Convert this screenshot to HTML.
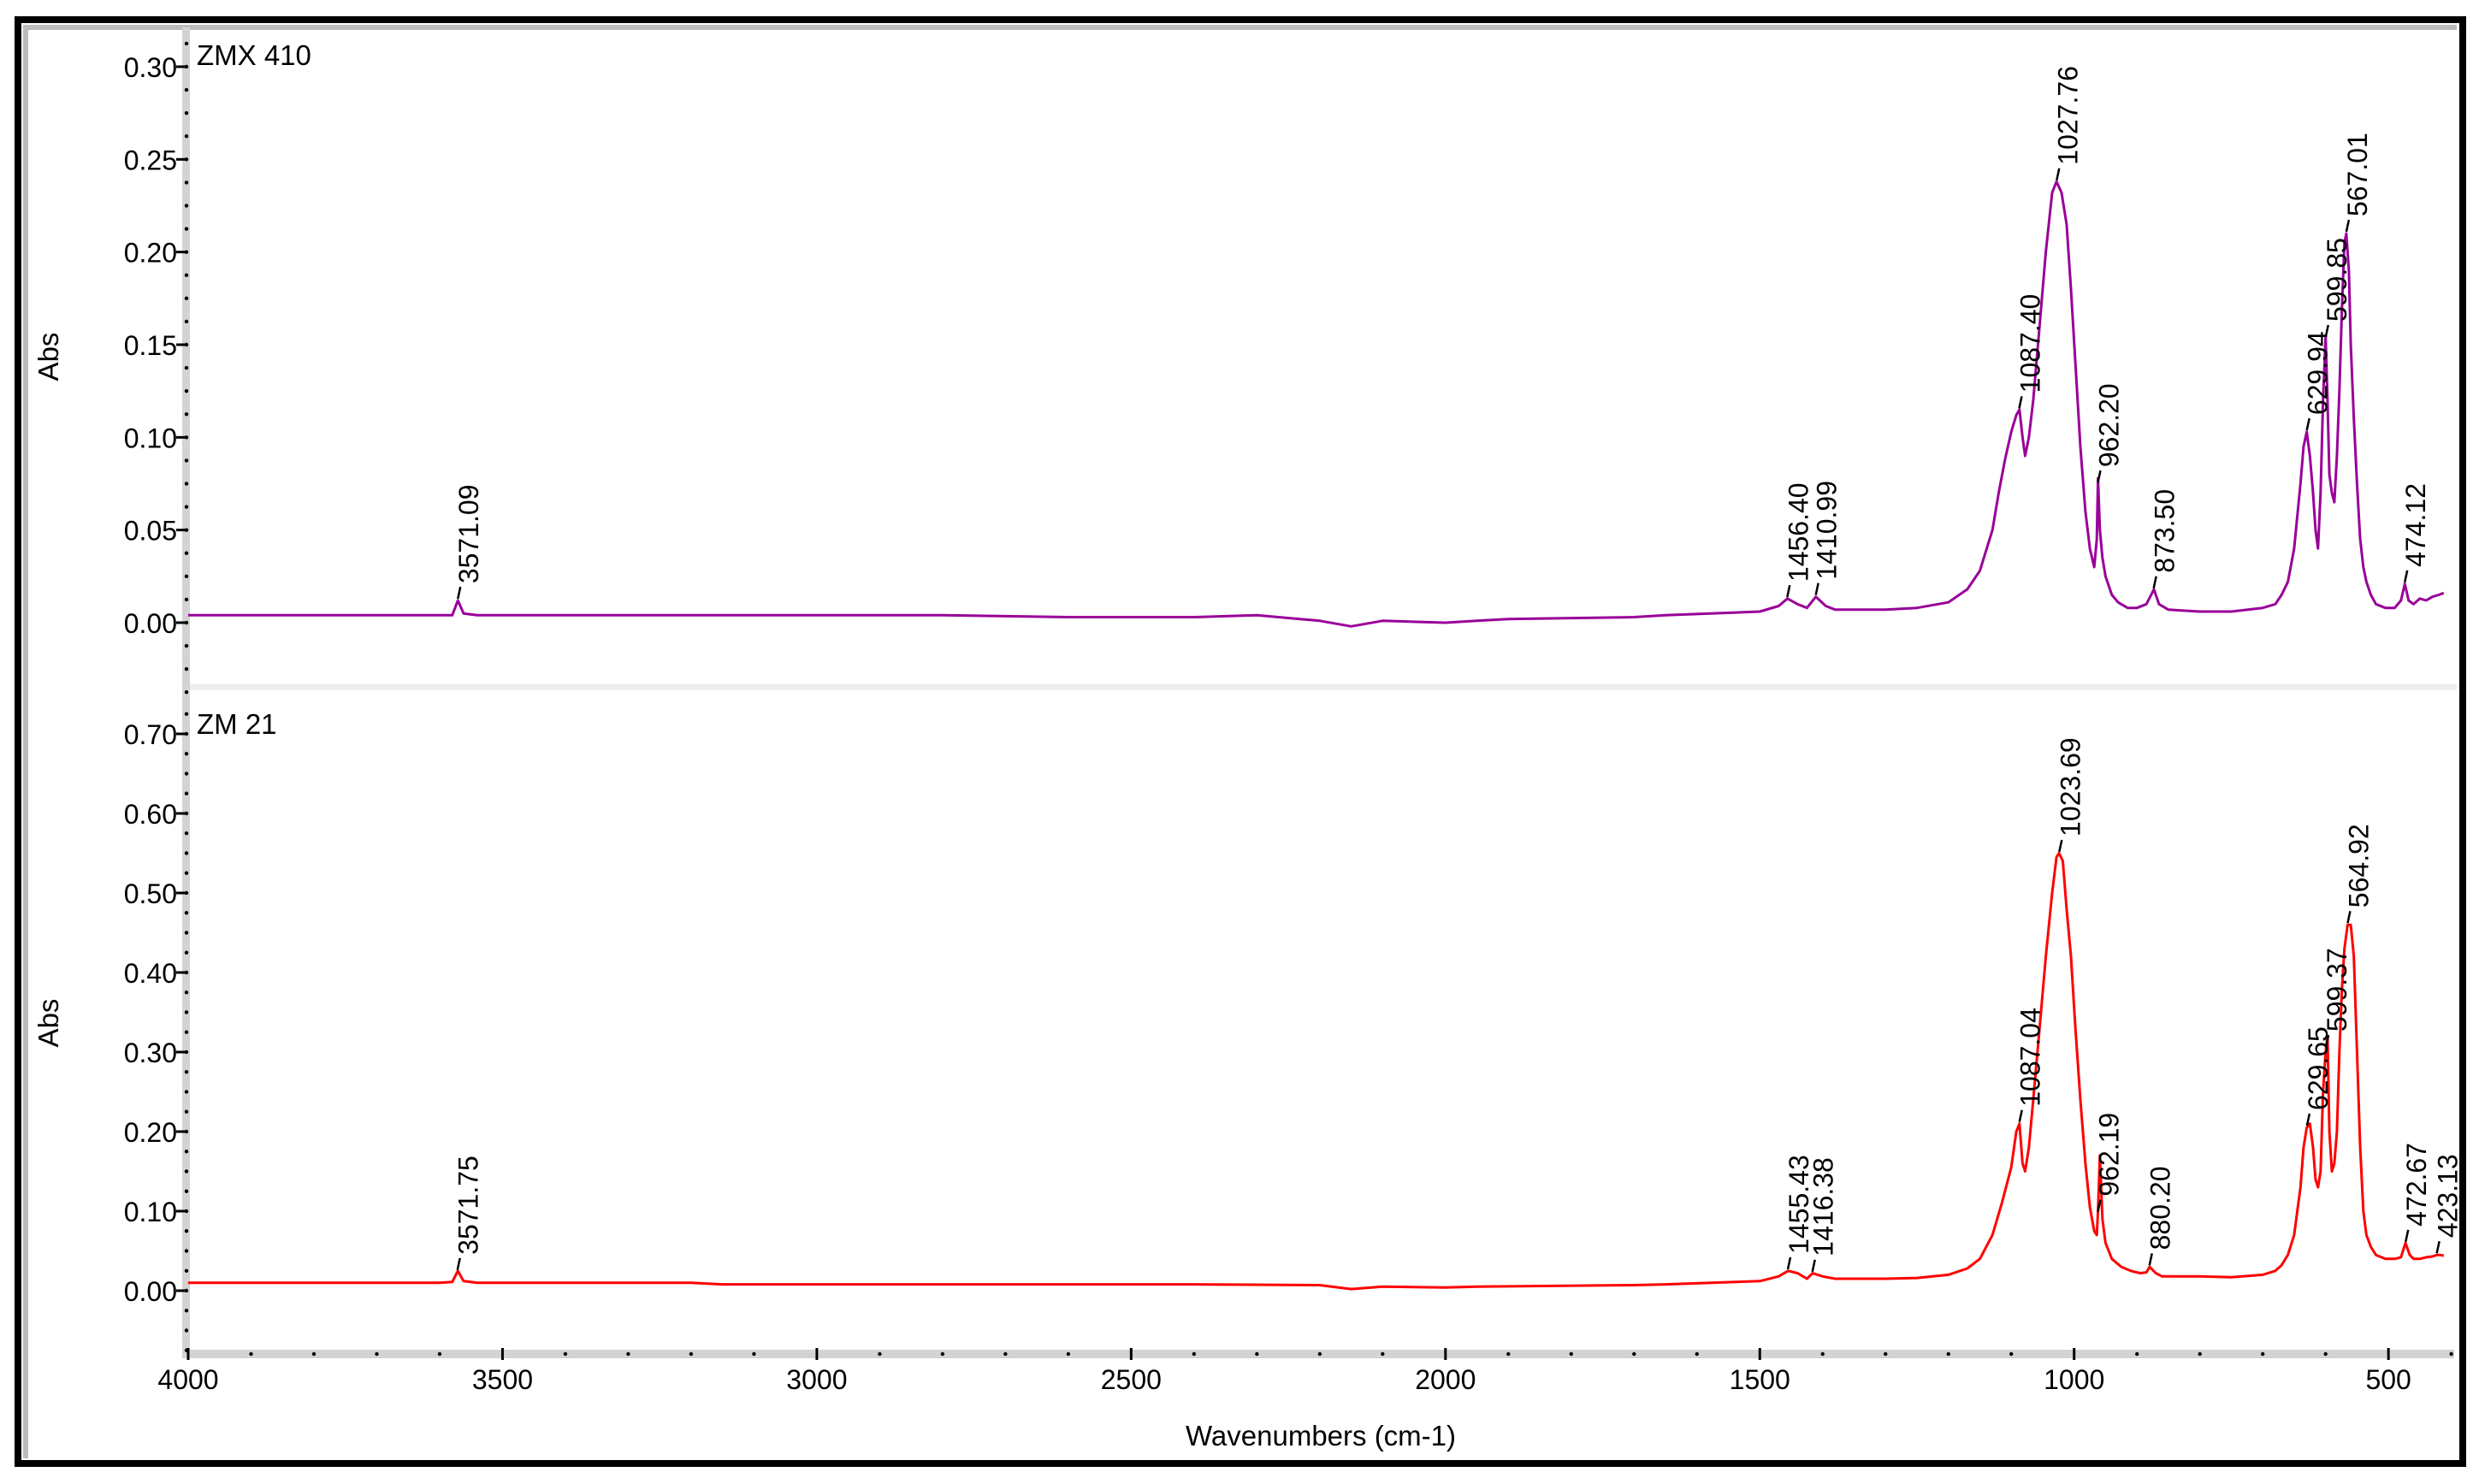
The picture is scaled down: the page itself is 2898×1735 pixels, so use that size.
<!DOCTYPE html>
<html><head><meta charset="utf-8"><style>
html,body{margin:0;padding:0;background:#fff;}
svg{display:block;font-family:"Liberation Sans",Arial,sans-serif;}
</style></head><body>
<svg id="chart" width="2898" height="1735" viewBox="0 0 2898 1735" xmlns="http://www.w3.org/2000/svg">
<rect x="0" y="0" width="2898" height="1735" fill="#fff"/>
<rect x="21" y="23" width="2858" height="1688" fill="none" stroke="#000" stroke-width="8"/>
<path d="M30 1705 V32 H2872" fill="none" stroke="#bbb" stroke-width="6"/>
<rect x="222" y="800" width="2650" height="7" fill="#eee"/>
<rect x="213" y="32" width="9" height="1556" fill="#d3d3d3"/>
<rect x="213" y="1578" width="2656" height="10" fill="#d3d3d3"/>
<g id="g-axes"></g>
<g id="g-series"></g>
<g id="g-peaks"></g>
<text x="230" y="76" font-size="33">ZMX 410</text>
<text x="230" y="858" font-size="33">ZM 21</text>
<text transform="translate(68,417) rotate(-90)" text-anchor="middle" font-size="33">Abs</text>
<text transform="translate(68,1196) rotate(-90)" text-anchor="middle" font-size="33">Abs</text>
<text x="1544" y="1690" text-anchor="middle" font-size="33">Wavenumbers (cm-1)</text>
</svg>
<script>
const xTicks = [4000, 3500, 3000, 2500, 2000, 1500, 1000, 500];
const topTicks = [0.00, 0.05, 0.10, 0.15, 0.20, 0.25, 0.30];
const botTicks = [0.00, 0.10, 0.20, 0.30, 0.40, 0.50, 0.60, 0.70];

const topWn = [4000,3700,3600,3580,3571,3562,3540,3200,2800,2600,2400,2300,2200,2150,2100,2000,1950,1900,1700,1650,1500,1470,1456,1440,1425,1411,1395,1380,1300,1250,1200,1170,1150,1130,1120,1110,1100,1092,1087,1082,1078,1072,1065,1055,1045,1035,1028,1020,1012,1005,998,990,982,975,968,964,962,959,955,950,940,930,915,900,885,873,865,850,800,750,700,680,670,660,650,640,635,630,625,620,616,612,608,604,600,597,594,590,586,582,578,574,570,567,563,560,555,550,545,540,535,528,520,505,490,480,474,468,460,450,440,430,420,412];
const topAbs = [0.004,0.004,0.004,0.004,0.012,0.005,0.004,0.004,0.004,0.003,0.003,0.004,0.001,-0.002,0.001,0.0,0.001,0.002,0.003,0.004,0.006,0.009,0.013,0.010,0.008,0.014,0.009,0.007,0.007,0.008,0.011,0.018,0.028,0.050,0.070,0.088,0.103,0.112,0.115,0.100,0.090,0.100,0.120,0.160,0.200,0.232,0.238,0.232,0.215,0.180,0.140,0.095,0.060,0.040,0.030,0.045,0.078,0.050,0.035,0.025,0.015,0.011,0.008,0.008,0.010,0.018,0.010,0.007,0.006,0.006,0.008,0.010,0.015,0.022,0.040,0.075,0.095,0.103,0.090,0.070,0.050,0.040,0.070,0.120,0.155,0.120,0.080,0.070,0.065,0.090,0.125,0.170,0.205,0.210,0.190,0.150,0.110,0.075,0.045,0.030,0.022,0.015,0.010,0.008,0.008,0.012,0.021,0.012,0.010,0.013,0.012,0.014,0.015,0.016,0.020];

const botWn = [4000,3700,3600,3580,3571,3562,3540,3200,3150,2800,2600,2400,2200,2150,2100,2000,1950,1700,1650,1500,1470,1455,1440,1425,1416,1400,1380,1300,1250,1200,1170,1150,1130,1115,1100,1092,1087,1082,1078,1072,1065,1055,1045,1035,1028,1024,1018,1012,1005,998,990,982,975,968,964,962,959,955,950,940,925,910,895,885,880,870,860,800,750,700,680,670,660,650,640,635,630,625,620,616,612,608,604,600,597,594,590,586,582,578,574,570,565,560,555,550,545,540,535,528,520,505,490,480,473,466,460,450,440,430,423,418,412];
const botAbs = [0.010,0.010,0.010,0.011,0.025,0.012,0.010,0.010,0.008,0.008,0.008,0.008,0.007,0.002,0.005,0.004,0.005,0.007,0.008,0.012,0.018,0.025,0.022,0.015,0.022,0.018,0.015,0.015,0.016,0.020,0.028,0.040,0.070,0.110,0.155,0.200,0.210,0.160,0.150,0.180,0.240,0.330,0.420,0.500,0.545,0.550,0.540,0.480,0.420,0.330,0.240,0.160,0.105,0.075,0.070,0.100,0.170,0.090,0.060,0.040,0.030,0.025,0.022,0.023,0.030,0.022,0.018,0.018,0.017,0.020,0.025,0.032,0.045,0.070,0.130,0.180,0.205,0.210,0.180,0.140,0.130,0.150,0.250,0.300,0.320,0.200,0.150,0.160,0.200,0.300,0.380,0.430,0.460,0.460,0.420,0.300,0.180,0.100,0.070,0.055,0.045,0.040,0.040,0.042,0.060,0.045,0.040,0.040,0.042,0.043,0.045,0.045,0.044,0.045];

const topPeakWn = [3571.09,1456.40,1410.99,1087.40,1027.76,962.20,873.50,629.94,599.85,567.01,474.12];
const topPeakLbl = ["3571.09","1456.40","1410.99","1087.40","1027.76","962.20","873.50","629.94","599.85","567.01","474.12"];
const botPeakWn = [3571.75,1455.43,1416.38,1087.04,1023.69,962.19,880.20,629.65,599.37,564.92,472.67,423.13];
const botPeakLbl = ["3571.75","1455.43","1416.38","1087.04","1023.69","962.19","880.20","629.65","599.37","564.92","472.67","423.13"];

const NS = "http://www.w3.org/2000/svg";
function xS(w){ return 220 + (4000 - w) * 0.7349; }
function yTop(v){ return 728 - v * (650 / 0.30); }
function yBot(v){ return 1509 - v * (651 / 0.70); }
function mk(tag, attrs, parent){ const e=document.createElementNS(NS,tag); for(const k in attrs) e.setAttribute(k,attrs[k]); parent.appendChild(e); return e; }
function interp(ws, as, w){ for(let i=0;i<ws.length-1;i++){ if(w<=ws[i] && w>=ws[i+1]){ const t=(ws[i]-w)/(ws[i]-ws[i+1]); return as[i]+t*(as[i+1]-as[i]); } } return as[as.length-1]; }

const gA = document.getElementById('g-axes');
xTicks.forEach(function(t){
  const l = mk('line',{x1:xS(t),x2:xS(t),y1:1576,y2:1590,stroke:'#000','stroke-width':3},gA);
  
  
  const tx = mk('text',{x:xS(t),y:1624,'text-anchor':'middle','font-size':32},gA);
  tx.textContent = t;
  
  
});
for(let w=3900; w>=400; w-=100){ if(w%500===0) continue;
  const d = mk('circle',{cx:xS(w),cy:1583,r:2.2,fill:'#000'},gA);
  
  
}
function yAxis(ticks, yf, step, lo, hi, name){
  ticks.forEach(function(t){
    const l = mk('line',{x1:206,x2:217,y1:yf(t),y2:yf(t),stroke:'#000','stroke-width':3},gA);
    
    
    const tx = mk('text',{x:207,y:yf(t)+12,'text-anchor':'end','font-size':32},gA);
    tx.textContent = t.toFixed(2);
    
    
  });
  for(let v=lo; v<=hi+1e-9; v+=step/4){
    const d = mk('circle',{cx:218,cy:yf(v),r:2.2,fill:'#000'},gA);
    
    
  }
}
yAxis(topTicks, yTop, 0.05, -0.0375, 0.3125, 'top-y');
yAxis(botTicks, yBot, 0.10, -0.075, 0.725, 'bottom-y');

const gS = document.getElementById('g-series');
function series(ws, as, yf, col, name){
  let d=''; ws.forEach(function(w,i){ d += (i?'L':'M') + xS(w).toFixed(1) + ' ' + yf(as[i]).toFixed(1); });
  const p = mk('path',{d:d,fill:'none',stroke:col,'stroke-width':3,'stroke-linejoin':'round'},gS);
  
  
}
series(topWn, topAbs, yTop, '#990099', 'zmx410-spectrum');
series(botWn, botAbs, yBot, '#ff0000', 'zm21-spectrum');

const gP = document.getElementById('g-peaks');
function peaks(pw, pl, ws, as, yf, name){
  pw.forEach(function(w,i){
    const px = xS(w), py = yf(interp(ws, as, w));
    const m = mk('line',{x1:px,x2:px+3,y1:py-2,y2:py-16,stroke:'#000','stroke-width':2.5},gP);
    
    
    const t = mk('text',{transform:'translate('+(px+24)+','+(py-20)+') rotate(-90)','font-size':32},gP);
    t.textContent = pl[i];
    
    
  });
}
peaks(topPeakWn, topPeakLbl, topWn, topAbs, yTop, 'zmx410');
peaks(botPeakWn, botPeakLbl, botWn, botAbs, yBot, 'zm21');
</script>
</body></html>
